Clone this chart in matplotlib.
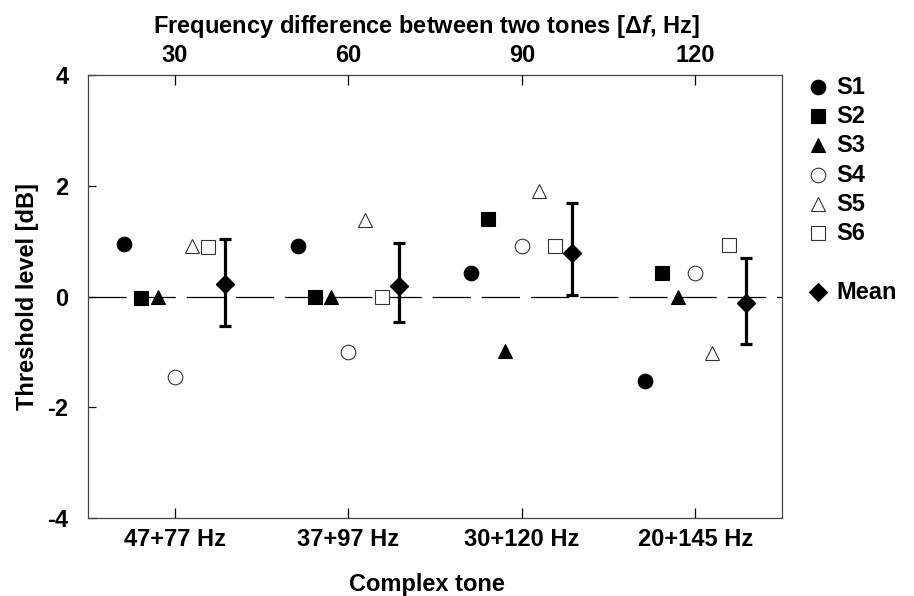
import matplotlib
matplotlib.use("Agg")
import matplotlib.pyplot as plt
import numpy as np

plt.rcParams['font.family'] = ['Liberation Sans', 'DejaVu Sans']
plt.rcParams['font.weight'] = 'bold'
plt.rcParams['mathtext.fontset'] = 'custom'
plt.rcParams['mathtext.rm'] = 'Liberation Sans:bold'
plt.rcParams['mathtext.bf'] = 'Liberation Sans:bold'
plt.rcParams['mathtext.it'] = 'Liberation Sans:bold:italic'

# ---- data ----
complex_tones = ["47+77 Hz", "37+97 Hz", "30+120 Hz", "20+145 Hz"]
delta_f = ["30", "60", "90", "120"]
S1 = [0.95, 0.92, 0.43, -1.52]
S2 = [-0.02, -0.01, 1.40, 0.43]
S3 = [-0.01, -0.01, -0.98, -0.01]
S4 = [-1.46, -1.00, 0.92, 0.42]
S5 = [0.92, 1.38, 1.90, -1.02]
S6 = [0.90, -0.01, 0.92, 0.93]
mean = [0.22, 0.19, 0.78, -0.12]
err_low = [0.76, 0.65, 0.76, 0.73]
err_high = [0.82, 0.77, 0.90, 0.81]

FS = 17
W, H = 914, 596
fig = plt.figure(figsize=(W / 100, H / 100), dpi=100)
L, R, T, B = 88, 782, 75, 518
ax = fig.add_axes([L / W, 1 - B / H, (R - L) / W, (B - T) / H])

x = np.arange(1, len(complex_tones) + 1)
step = 0.097

# zero reference line (dashed)
lw0 = 0.9
ax.plot([0.5, 4.5], [0, 0], color='black', lw=lw0,
        linestyle=(0, (27.5 / lw0, 7.9 / lw0)), zorder=1)

styles = [
    (S1, 'o', 'black', 10.5),
    (S2, 's', 'black', 10),
    (S3, '^', 'black', 10.5),
    (S4, 'o', 'white', 10.5),
    (S5, '^', 'white', 10.5),
    (S6, 's', 'white', 9.5),
]
for i, (vals, m, fc, ms) in enumerate(styles):
    ax.plot(x + (i - 3) * step, vals, linestyle='none', marker=m, ms=ms,
            mfc=fc, mec='black' if fc == 'black' else '#333333',
            mew=0.8, zorder=3)

ax.errorbar(x + 3 * step, mean, yerr=[err_low, err_high], fmt='D', ms=9.5,
            color='black', ecolor='black', elinewidth=2.3, capsize=4,
            capthick=2.3, zorder=4)

ax.set_xlim(0.5, 4.5)
ax.set_ylim(-4, 4)
ax.set_yticks([-4, -2, 0, 2, 4])
ax.set_yticklabels(['-4', '-2', '0', '2', '4'])
ax.set_xticks(x)
ax.set_xticklabels(complex_tones)
ax.tick_params(axis='both', direction='in', labelsize=FS, width=0.9)
ax.tick_params(axis='x', length=7, pad=7)
ax.tick_params(axis='y', length=6, pad=14)
for lab in ax.get_xticklabels() + ax.get_yticklabels():
    lab.set_fontweight('bold')

for s in ax.spines.values():
    s.set_linewidth(0.9)
    s.set_color('#444444')

ax.set_xlabel('Complex tone', fontsize=FS, fontweight='bold', labelpad=15)
ax.xaxis.set_label_coords(0.488, -0.125)
ax.set_ylabel('Threshold level [dB]', fontsize=FS, fontweight='bold', labelpad=6)

# top axis
ax2 = ax.twiny()
ax2.set_xlim(ax.get_xlim())
ax2.set_xticks(x)
ax2.set_xticklabels(delta_f)
ax2.tick_params(axis='x', direction='in', length=7, width=0.9, labelsize=FS, pad=6)
for lab in ax2.get_xticklabels():
    lab.set_fontweight('bold')
for s in ax2.spines.values():
    s.set_visible(False)
ax2.set_xlabel(r'Frequency difference between two tones [$\Delta\mathit{f}$, Hz]',
               fontsize=FS, fontweight='bold', labelpad=7)
ax2.xaxis.set_label_coords(0.487, 1.095)

# legend (manual)
leg_labels = ['S1', 'S2', 'S3', 'S4', 'S5', 'S6', 'Mean']
leg_y = [87, 116, 145, 175, 204, 233, 292]
leg_style = [('o', 'black', 10.5), ('s', 'black', 10), ('^', 'black', 10.5),
             ('o', 'white', 10.5), ('^', 'white', 10.5), ('s', 'white', 9.5),
             ('D', 'black', 9.5)]
for lab, yy, (m, fc, ms) in zip(leg_labels, leg_y, leg_style):
    fy = 1 - yy / H
    fig.add_artist(matplotlib.lines.Line2D([818 / W], [fy], marker=m, ms=ms,
                   mfc=fc, mec='black' if fc == 'black' else '#333333',
                   mew=0.8, linestyle='none', transform=fig.transFigure))
    fig.text(836 / W, fy, lab, fontsize=FS, fontweight='bold',
             va='center', ha='left')

fig.savefig('out.png', dpi=100)
